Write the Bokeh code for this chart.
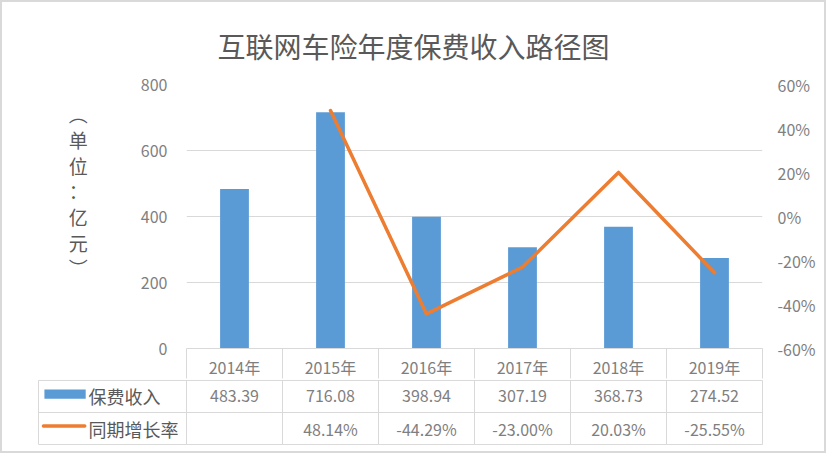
from bokeh.plotting import figure
from bokeh.models import Range1d, LinearAxis, FixedTicker, Grid, PrintfTickFormatter, ColumnDataSource
from bokeh.embed import file_html
from bokeh.resources import INLINE
from bokeh.core.properties import value

# ---- data ----
years = ["2014年", "2015年", "2016年", "2017年", "2018年", "2019年"]
premium = [483.39, 716.08, 398.94, 307.19, 368.73, 274.52]
growth = [None, 48.14, -44.29, -23.00, 20.03, -25.55]
left_ticks = [0, 200, 400, 600, 800]
right_ticks = [-60, -40, -20, 0, 20, 40, 60]
title_text = "互联网车险年度保费收入路径图"
ylabel_lines = ["︵", "单", "位", "：", "亿", "元", "︶", " ", " "]
series_names = ["保费收入", "同期增长率"]

FONT = "Noto Sans CJK SC"
BAR = "#5B9BD5"
LINE = "#ED7D31"
GRID = "#d9d9d9"
TXT = "#7f7f7f"
TXT2 = "#595959"
BORDER = "2px solid #d9d9d9"

n = len(years)
xc = [i + 0.5 for i in range(n)]
edges = list(range(n + 1))

# ---------------- chart (with header row of the table as its x axis) ----------------
p1 = figure(width=826, height=379, x_range=Range1d(0, n), y_range=Range1d(0, 800),
            x_axis_type=None, y_axis_type=None, output_backend="svg", toolbar_location=None,
            min_border_left=184, min_border_right=66, min_border_top=82, min_border_bottom=30)
p1.outline_line_color = None
p1.background_fill_color = "white"
p1.border_fill_color = "white"
p1.styles = {"border-top": BORDER, "border-left": BORDER, "border-right": BORDER}
p1.extra_y_ranges = {"pct": Range1d(-60, 60)}

p1.title.text = title_text
p1.title.text_font = FONT
p1.title.text_font_size = "28px"
p1.title.text_font_style = "normal"
p1.title.text_color = TXT2
p1.title.align = "left"
p1.title.offset = 31
p1.title.standoff = 38

p1.renderers.append(Grid(dimension=1, ticker=FixedTicker(ticks=left_ticks[1:]), grid_line_color=GRID, grid_line_width=1))

yl = LinearAxis(ticker=FixedTicker(ticks=left_ticks))
yr = LinearAxis(y_range_name="pct", ticker=FixedTicker(ticks=right_ticks), formatter=PrintfTickFormatter(format="%d%%"))
for ax, so in ((yl, 19), (yr, 15)):
    ax.axis_line_color = None
    ax.major_tick_line_color = None
    ax.minor_tick_line_color = None
    ax.major_tick_out = 0
    ax.major_tick_in = 0
    ax.major_label_standoff = so
    ax.major_label_text_font = FONT
    ax.major_label_text_font_size = "16px"
    ax.major_label_text_color = TXT
yl.axis_label = "\n".join(ylabel_lines)
yl.axis_label_orientation = "horizontal"
yl.axis_label_text_font = FONT
yl.axis_label_text_font_size = "19px"
yl.axis_label_text_font_style = "normal"
yl.axis_label_text_color = TXT2
yl.axis_label_text_line_height = 0.95
yl.axis_label_standoff = 50
p1.add_layout(yl, "left")
p1.add_layout(yr, "right")

# x axis = header row of the data table
xa = LinearAxis(ticker=FixedTicker(ticks=xc, minor_ticks=edges))
xa.major_label_overrides = {x: y for x, y in zip(xc, years)}
xa.axis_line_color = GRID
xa.major_tick_line_color = None
xa.major_tick_out = 0
xa.major_tick_in = 0
xa.minor_tick_line_color = GRID
xa.minor_tick_out = 30
xa.minor_tick_in = 0
xa.major_label_standoff = -24
xa.axis_label_standoff = 0
xa.major_label_text_font = FONT
xa.major_label_text_font_size = "16px"
xa.major_label_text_color = TXT
p1.add_layout(xa, "below")

src = ColumnDataSource(dict(x=xc, top=premium))
p1.vbar(x="x", top="top", width=0.3, source=src, fill_color=BAR, line_color=None)

gx = [xc[i] for i in range(n) if growth[i] is not None]
gy = [g for g in growth if g is not None]
p1.line(x=gx, y=gy, y_range_name="pct", line_color=LINE, line_width=3.5, line_join="round", line_cap="round")

# ---------------- data table rows ----------------
left_edge = -148 / 96
p2 = figure(width=826, height=74, x_range=Range1d(-150 / 96, n + 2 / 96), y_range=Range1d(-0.03, 2.03),
            x_axis_type=None, y_axis_type=None, output_backend="svg", toolbar_location=None,
            min_border_left=34, min_border_right=64, min_border_top=0, min_border_bottom=8)
p2.outline_line_color = None
p2.background_fill_color = "white"
p2.border_fill_color = "white"
p2.styles = {"border-bottom": BORDER, "border-left": BORDER, "border-right": BORDER}

vx0, vy0, vx1, vy1 = [], [], [], []
for k in edges:
    vx0.append(k); vx1.append(k); vy0.append(0); vy1.append(2)
vx0.append(left_edge); vx1.append(left_edge); vy0.append(0); vy1.append(2)
for r in (2, 1, 0):
    vx0.append(left_edge); vx1.append(n); vy0.append(r); vy1.append(r)
p2.segment(x0=vx0, y0=vy0, x1=vx1, y1=vy1, line_color=GRID, line_width=1)

row_prem = [1.5] * n
row_growth = [0.5] * n
prem_txt = [f"{v:.2f}" for v in premium]
growth_txt = ["" if g is None else f"{g:.2f}%" for g in growth]

common = dict(text_font=value(FONT), text_font_size="16px", text_color=TXT, text_align="center", text_baseline="middle")
p2.text(x=xc, y=row_prem, text=prem_txt, **common)
p2.text(x=xc, y=row_growth, text=growth_txt, **common)

p2.quad(left=[-1.48], right=[-1.05], bottom=[1.43], top=[1.72], fill_color=BAR, line_color=None)
p2.segment(x0=[-1.49], y0=[0.58], x1=[-1.06], y1=[0.58], line_color=LINE, line_width=3.5, line_cap="round")
p2.text(x=[-1.02, -1.02], y=[1.5, 0.5], text=series_names, text_font=value(FONT), text_font_size="18px",
        text_color=TXT2, text_align="left", text_baseline="middle")

open("out.html", "w").write(file_html([p1, p2], INLINE))
